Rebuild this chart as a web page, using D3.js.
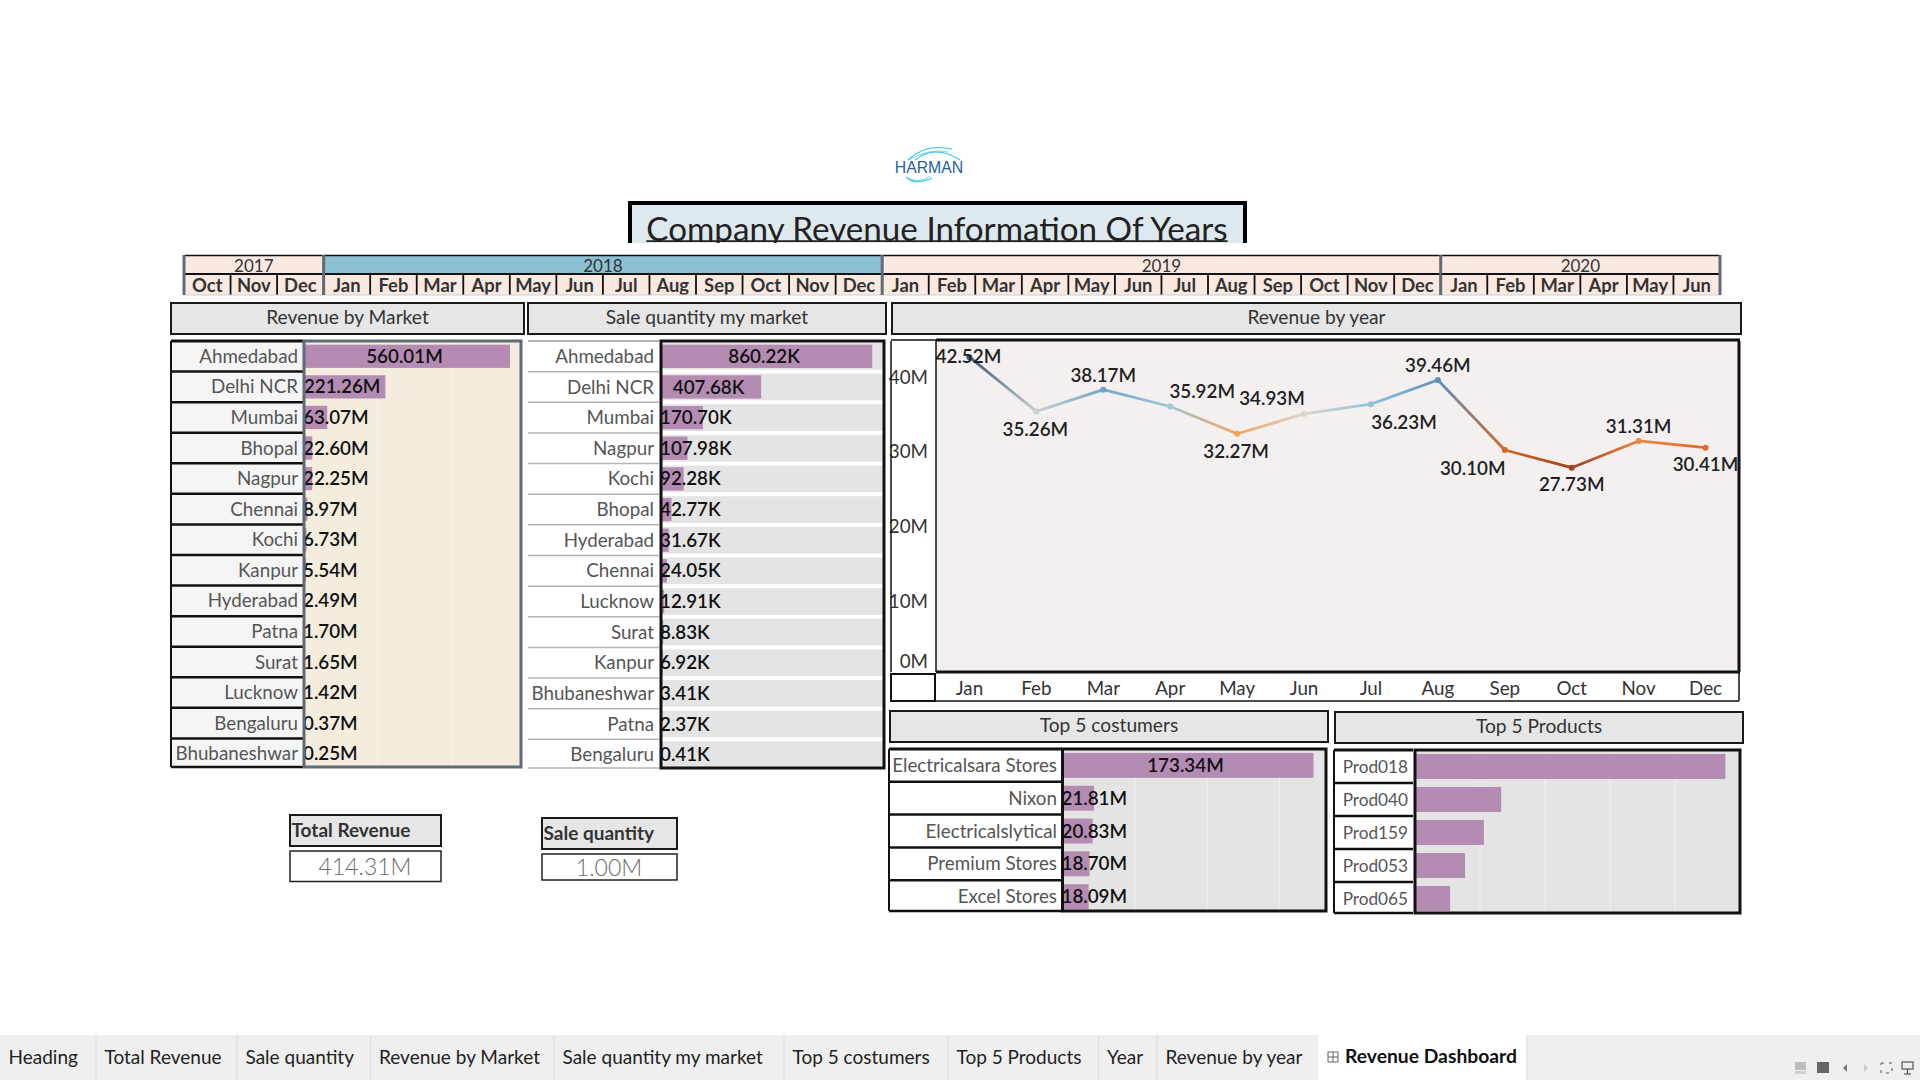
<!DOCTYPE html>
<html>
<head>
<meta charset="utf-8">
<script src="https://cdn.jsdelivr.net/npm/d3@7"></script>
<style>
  html, body { margin: 0; padding: 0; background: #fff; }
  svg { display: block; font-family: Lato, "Open Sans", sans-serif; }
</style>
</head>
<body>
<div id="dashboard"></div>
<script>
// ---- data ----
const yearNames = ["2017", "2018", "2019", "2020"]
const yearMonthCounts = [3, 12, 12, 6]
const monthNames = ["Jan", "Feb", "Mar", "Apr", "May", "Jun", "Jul", "Aug", "Sep", "Oct", "Nov", "Dec"]
const stripMonths = ["Oct", "Nov", "Dec"].concat(monthNames, monthNames, monthNames.slice(0, 6))

const revenueMarkets = ["Ahmedabad", "Delhi NCR", "Mumbai", "Bhopal", "Nagpur", "Chennai", "Kochi", "Kanpur", "Hyderabad", "Patna", "Surat", "Lucknow", "Bengaluru", "Bhubaneshwar"]
const revenueValues = [560.01, 221.26, 63.07, 22.60, 22.25, 8.97, 6.73, 5.54, 2.49, 1.70, 1.65, 1.42, 0.37, 0.25]

const quantityMarkets = ["Ahmedabad", "Delhi NCR", "Mumbai", "Nagpur", "Kochi", "Bhopal", "Hyderabad", "Chennai", "Lucknow", "Surat", "Kanpur", "Bhubaneshwar", "Patna", "Bengaluru"]
const quantityValues = [860.22, 407.68, 170.70, 107.98, 92.28, 42.77, 31.67, 24.05, 12.91, 8.83, 6.92, 3.41, 2.37, 0.41]

const monthlyRevenue = [42.52, 35.26, 38.17, 35.92, 32.27, 34.93, 36.23, 39.46, 30.10, 27.73, 31.31, 30.41]

const customerNames = ["Electricalsara Stores", "Nixon", "Electricalslytical", "Premium Stores", "Excel Stores"]
const customerValues = [173.34, 21.81, 20.83, 18.70, 18.09]

// no labels on this one
const productNames = ["Prod018", "Prod040", "Prod159", "Prod053", "Prod065"]
const productValues = [95.5, 26.5, 21.2, 15.4, 10.8]

const tabNames = ["Heading", "Total Revenue", "Sale quantity", "Revenue by Market", "Sale quantity my market", "Top 5 costumers", "Top 5 Products", "Year", "Revenue by year"]

// ---- styles ----
const purple = "#b48bb2"
const darkText = "#333"
const labelText = "#555"
const slate = "#5f6b75"
const cellFont = 18.8

const svg = d3.select("#dashboard").append("svg")
  .attr("width", 1920).attr("height", 1080)

const rect = (parent, x0, y0, x1, y1, fill, stroke, sw) => parent.append("rect")
  .attr("x", x0).attr("y", y0).attr("width", x1 - x0).attr("height", y1 - y0)
  .attr("fill", fill || "none").attr("stroke", stroke || "none").attr("stroke-width", sw || 0)

const label = (parent, x, y, str, size, color, anchor, weight) => parent.append("text")
  .attr("x", x).attr("y", y).attr("dy", "0.35em")
  .attr("text-anchor", anchor || "middle")
  .attr("font-size", size).attr("fill", color || darkText)
  .attr("font-weight", weight || 400)
  .text(str)

const line = (parent, x1, y1, x2, y2, color, sw) => parent.append("line")
  .attr("x1", x1).attr("y1", y1).attr("x2", x2).attr("y2", y2)
  .attr("stroke", color).attr("stroke-width", sw)

// ---- logo ----
const logo = svg.append("g")
label(logo, 929, 167.5, "HARMAN", 15.8, "#1f5fa6", "middle").attr("font-family", "Liberation Sans")
const swoosh = (x0, y0, cx, cy, x1, y1, sw) => {
  const p = d3.path()
  p.moveTo(x0, y0)
  p.quadraticCurveTo(cx, cy, x1, y1)
  logo.append("path").attr("d", p.toString()).attr("fill", "none").attr("stroke", "#35c4ea").attr("stroke-width", sw)
}
swoosh(908, 160, 925, 143, 952, 149, 1.1)
swoosh(915, 160, 935, 144, 960, 160, 1.1)
swoosh(908, 160, 930, 148, 948, 152, 0.7)
swoosh(906, 177, 915, 186, 932, 178, 1.1)
swoosh(908, 178, 920, 184, 930, 176, 0.7)

// ---- title, cut off at the bottom of its box ----
svg.append("clipPath").attr("id", "title-clip").append("rect")
  .attr("x", 620).attr("y", 195).attr("width", 640).attr("height", 48)
const title = svg.append("g").attr("clip-path", "url(#title-clip)")
rect(title, 630, 203, 1245, 260, "#dde9ef", "#000", 4)
const titleText = label(title, 937, 229, "Company Revenue Information Of Years", 33.2, "#222")
const titleWidth = titleText.node().getComputedTextLength()
line(title, 937 - titleWidth / 2, 241.2, 937 + titleWidth / 2, 241.2, "#222", 1.8)

// ---- year / month strip ----
const stripKeys = stripMonths.map((m, i) => i)
const stripX = d3.scaleBand().domain(stripKeys).range([184, 1720])
const strip = svg.append("g")
let stripIndex = 0
yearNames.forEach((yearName, i) => {
  const x0 = stripX(stripIndex)
  const x1 = stripX(stripIndex + yearMonthCounts[i] - 1) + stripX.bandwidth()
  rect(strip, x0, 256, x1, 274, yearName === "2018" ? "#8bc1d3" : "#f9e9e1")
  rect(strip, x0, 274, x1, 295, "#f9e9e1")
  label(strip, (x0 + x1) / 2, 265.6, yearName, 17, darkText)
  stripIndex += yearMonthCounts[i]
})
stripMonths.forEach((m, i) => {
  label(strip, stripX(i) + stripX.bandwidth() / 2, 286, m, 18.4, darkText, "middle", 700)
  if (i > 0) line(strip, stripX(i), 275, stripX(i), 295, "#111", 1.8)
})
line(strip, 184, 255.5, 1720, 255.5, "#111", 1.5)
line(strip, 184, 274, 1720, 274, "#111", 2)
line(strip, 184, 295, 1720, 295, "#ccc", 1)
stripIndex = 0
yearNames.forEach((yearName, i) => {
  line(strip, stripX(stripIndex), 255, stripX(stripIndex), 295, slate, 3)
  stripIndex += yearMonthCounts[i]
})
line(strip, 1720, 255, 1720, 295, slate, 3)

// ---- grey panel headers ----
const header = (x0, y0, x1, y1, str, anchor) => {
  rect(svg, x0, y0, x1, y1, "#e6e6e6", "#1a1a1a", 2)
  if (anchor) label(svg, x0 + 1.5, (y0 + y1) / 2 - 0.5, str, 19, darkText, "start", 700)
  else label(svg, (x0 + x1) / 2, (y0 + y1) / 2 - 1, str, 19.2, darkText)
}
header(171, 303, 524, 334, "Revenue by Market")
header(528, 303, 886, 334, "Sale quantity my market")
header(892, 303, 1741, 334, "Revenue by year")
header(890, 711, 1328, 742, "Top 5 costumers")
header(1335, 712, 1743, 743, "Top 5 Products")
header(290, 815, 441, 846, "Total Revenue", true)
header(542, 818, 677, 849, "Sale quantity", true)

// ---- bar tables ----
function barTable(o) {
  const g = svg.append("g")
  const y = d3.scaleBand().domain(o.names).range([o.top, o.rowBottom])
  const x = d3.scaleLinear().domain(o.domain).range([o.plotLeft, o.plotRight])
  const barH = y.bandwidth() * o.barShare
  const barY = (d) => y(d) + (y.bandwidth() - barH) / 2

  rect(g, o.left, o.top, o.labelRight, o.bottom, o.labelFill)
  rect(g, o.plotLeft, o.top, o.plotRight, o.bottom, o.plotFill)

  // light vertical gridlines from the value scale
  g.selectAll(".grid").data(o.gridValues || []).enter().append("line")
    .attr("x1", (d) => x(d)).attr("x2", (d) => x(d))
    .attr("y1", o.top).attr("y2", o.bottom)
    .attr("stroke", o.gridColor).attr("stroke-width", 1)

  if (o.bandFill) {
    g.selectAll(".band").data(o.names).enter().append("rect")
      .attr("x", o.plotLeft).attr("width", o.plotRight - o.plotLeft)
      .attr("y", (d) => y(d) + 2).attr("height", y.bandwidth() - 4)
      .attr("fill", o.bandFill)
  }

  g.selectAll(".bar").data(o.names).enter().append("rect")
    .attr("x", o.plotLeft + 1)
    .attr("y", barY)
    .attr("width", (d, i) => Math.max(0, x(o.values[i]) - o.plotLeft - 1))
    .attr("height", barH)
    .attr("fill", purple)

  o.names.forEach((d, i) => {
    const cy = y(d) + y.bandwidth() / 2
    label(g, o.labelRight - 5, cy, d, o.labelSize || cellFont, labelText, "end")
    if (i < o.names.length - 1) {
      line(g, o.left, y(d) + y.bandwidth(), o.labelRight, y(d) + y.bandwidth(), o.ruleColor, o.ruleWidth)
    }
    if (o.format) {
      // centred on the bar, pushed right when the bar is too short for its text
      const t = label(g, 0, cy, o.format(o.values[i]), cellFont, "#111", "start", 600)
      const w = t.node().getComputedTextLength()
      const mid = (o.plotLeft + x(o.values[i])) / 2 - 2.5
      t.attr("x", Math.max(o.plotLeft - 1, mid - w / 2))
    }
  })

  line(g, o.left, o.top, o.labelRight, o.top, o.ruleColor, o.ruleWidth + 0.5)
  line(g, o.left, o.bottom, o.labelRight, o.bottom, o.ruleColor, o.ruleWidth)
  if (o.leftRule) line(g, o.left, o.top, o.left, o.bottom, o.leftRule, 2)
  rect(g, o.plotLeft, o.top, o.plotRight, o.bottom, "none", o.frame, 3)
}

const formatM = (v) => v.toFixed(2) + "M"
const formatK = (v) => v.toFixed(2) + "K"

barTable({
  names: revenueMarkets, values: revenueValues, format: formatM,
  domain: [0, 590], gridValues: [200, 400], gridColor: "#faf6ec",
  left: 171, labelRight: 303, plotLeft: 304, plotRight: 521, top: 341, bottom: 767, rowBottom: 769,
  labelFill: "#f5f5f5", plotFill: "#f4ecdc", barShare: 0.76,
  ruleColor: "#111", ruleWidth: 2.5, leftRule: "#111", frame: slate
})
barTable({
  names: quantityMarkets, values: quantityValues, format: formatK,
  domain: [0, 908], bandFill: "#e4e4e4",
  left: 528, labelRight: 659, plotLeft: 661, plotRight: 884, top: 341, bottom: 768, rowBottom: 770,
  labelFill: "#fff", plotFill: "#fff", barShare: 0.76,
  ruleColor: "#b5b5b5", ruleWidth: 1.5, frame: "#111"
})
barTable({
  names: customerNames, values: customerValues, format: formatM,
  domain: [0, 182], gridValues: [50, 100, 150], gridColor: "#f0f0f0",
  left: 889, labelRight: 1062, plotLeft: 1062.5, plotRight: 1326, top: 749, bottom: 911, rowBottom: 913,
  labelFill: "#fff", plotFill: "#e4e4e4", barShare: 0.76,
  ruleColor: "#111", ruleWidth: 2.5, leftRule: "#111", frame: "#111"
})
barTable({
  names: productNames, values: productValues,
  domain: [0, 100], gridValues: [20, 40, 60, 80], gridColor: "#f0f0f0",
  left: 1334, labelRight: 1413, plotLeft: 1415, plotRight: 1740, top: 750, bottom: 913, rowBottom: 915,
  labelFill: "#fff", plotFill: "#e4e4e4", barShare: 0.76,
  ruleColor: "#111", ruleWidth: 2.5, leftRule: "#111", frame: "#111",
  labelSize: 17.2
})

// ---- revenue by year line ----
const chart = svg.append("g")
const plotL = 936, plotR = 1739, plotT = 341, plotB = 672
const xMonth = d3.scaleBand().domain(monthNames).range([plotL, plotR])
const yRev = d3.scaleLinear().domain([0, 40]).range([675, 376])
const xPos = (m) => xMonth(m) + xMonth.bandwidth() / 2

rect(chart, plotL, plotT, plotR, plotB, "#f5f0f0")

// colour follows the value, orange low to blue high
const lineColor = d3.scaleLinear()
  .domain([27.73, 30.41, 32.27, 34.93, 36.23, 39.46, 42.52])
  .range(["#a0401c", "#dd6c28", "#f3a45c", "#dcd6c8", "#8fc2dd", "#5a92bf", "#33597f"])

const defs = svg.append("defs")
monthlyRevenue.slice(1).forEach((v, i) => {
  const a = monthNames[i], b = monthNames[i + 1]
  const grad = defs.append("linearGradient").attr("id", "seg" + i)
    .attr("gradientUnits", "userSpaceOnUse")
    .attr("x1", xPos(a)).attr("y1", yRev(monthlyRevenue[i]))
    .attr("x2", xPos(b)).attr("y2", yRev(v))
  grad.append("stop").attr("offset", "0%").attr("stop-color", lineColor(monthlyRevenue[i]))
  grad.append("stop").attr("offset", "100%").attr("stop-color", lineColor(v))
  chart.append("line")
    .attr("x1", xPos(a)).attr("y1", yRev(monthlyRevenue[i]))
    .attr("x2", xPos(b)).attr("y2", yRev(v))
    .attr("stroke", "url(#seg" + i + ")").attr("stroke-width", 2.8).attr("stroke-linecap", "round")
})
chart.selectAll(".pt").data(monthNames).enter().append("circle")
  .attr("cx", xPos)
  .attr("cy", (d, i) => yRev(monthlyRevenue[i]))
  .attr("r", 3)
  .attr("fill", (d, i) => lineColor(monthlyRevenue[i]))

// label placement around the points
const lineLabelOffsets = [[-1, -1], [-1, 18], [0, -14], [32, -15], [-1, 18], [-32, -15], [33, 18], [0, -15], [-32, 18], [0, 17], [0, -15], [0, 17]]
monthNames.forEach((m, i) => {
  const [dx, dy] = lineLabelOffsets[i]
  label(chart, xPos(m) + dx, yRev(monthlyRevenue[i]) + dy, formatM(monthlyRevenue[i]), cellFont, "#222", "middle", 600)
})

const yAxis = chart.append("g").attr("transform", "translate(" + plotL + ",1)")
  .call(d3.axisLeft(yRev).tickValues([0, 10, 20, 30, 40]).tickFormat((d) => d + "M").tickSize(0).tickPadding(8))
yAxis.select(".domain").remove()
yAxis.selectAll("text").attr("font-size", cellFont).attr("font-family", "Lato").attr("fill", darkText)
// the 0M label is kept inside the plot height
yAxis.selectAll(".tick").filter((d) => d === 0).select("text").attr("dy", "-0.45em")

const xAxis = chart.append("g").attr("transform", "translate(0,675)")
  .call(d3.axisBottom(xMonth).tickSize(0).tickPadding(7))
xAxis.select(".domain").remove()
xAxis.selectAll("text").attr("font-size", cellFont).attr("font-family", "Lato").attr("fill", darkText)

line(chart, plotL, plotT - 1, plotR + 1, plotT - 1, "#111", 3)
line(chart, plotL, plotT, plotL, plotB, "#111", 1.5)
line(chart, plotR, plotT, plotR, plotB, "#111", 3)
line(chart, plotL, plotB, plotR + 1, plotB, "#111", 3)
line(chart, 891, plotT - 1, 936, plotT - 1, "#111", 1.5)
line(chart, 891, plotT, 891, plotB, "#111", 1.5)
line(chart, plotL, 701, plotR, 701, "#111", 1.5)
line(chart, plotR, 673, plotR, 701, "#111", 1.5)
rect(chart, 891, 674, 935, 701, "none", "#111", 2)

// ---- KPI values ----
rect(svg, 290, 851, 441, 881.5, "#fff", "#222", 1.5)
label(svg, 365, 867, "414.31M", 23, "#6c6c6c", "middle", 300)
rect(svg, 542, 854, 677, 880, "#fff", "#222", 1.5)
label(svg, 609, 868, "1.00M", 23, "#6c6c6c", "middle", 300)

// ---- tab bar ----
const tabs = svg.append("g")
rect(tabs, 0, 1035, 1920, 1080, "#efefef")
const tabEdges = [96, 237, 370.5, 554, 784, 948, 1098.5, 1157, 1317.5]
const tabX = d3.scaleOrdinal().domain(tabNames).range([8.5].concat(tabEdges.slice(0, 8).map((d) => d + 8.5)))
tabNames.forEach((t, i) => {
  label(tabs, tabX(t), 1057.5, t, 19, "#222", "start")
  line(tabs, tabEdges[i], 1035, tabEdges[i], 1080, "#ddd", 1)
})
rect(tabs, 1317.5, 1035, 1527, 1080, "#fff")
line(tabs, 1527, 1035, 1527, 1080, "#ddd", 1)
label(tabs, 1345, 1056.5, "Revenue Dashboard", 19.3, "#111", "start", 700)
const tabIcon = tabs.append("g")
rect(tabIcon, 1328, 1052, 1338, 1062, null, "#666", 1)
line(tabIcon, 1333, 1052, 1333, 1062, "#666", 1)
line(tabIcon, 1328, 1057, 1338, 1057, "#666", 1)

// small status bar icons at the right
rect(tabs, 1795, 1062, 1806, 1070, "#bdbdbd")
rect(tabs, 1795, 1071, 1806, 1074, "#d0d0d0")
rect(tabs, 1817, 1062, 1829, 1073, "#666")
tabs.append("path").attr("d", d3.line()([[1847, 1064], [1843, 1068], [1847, 1072]])).attr("fill", "#777")
tabs.append("path").attr("d", d3.line()([[1864, 1064], [1868, 1068], [1864, 1072]])).attr("fill", "#ccc")
rect(tabs, 1881, 1063, 1892, 1073, null, "#555", 1).attr("stroke-dasharray", "3 5")
rect(tabs, 1902, 1062, 1913, 1069, null, "#555", 1.2)
line(tabs, 1907.5, 1069, 1907.5, 1074, "#555", 1.2)
line(tabs, 1904, 1074, 1911, 1074, "#555", 1.2)
</script>
</body>
</html>
